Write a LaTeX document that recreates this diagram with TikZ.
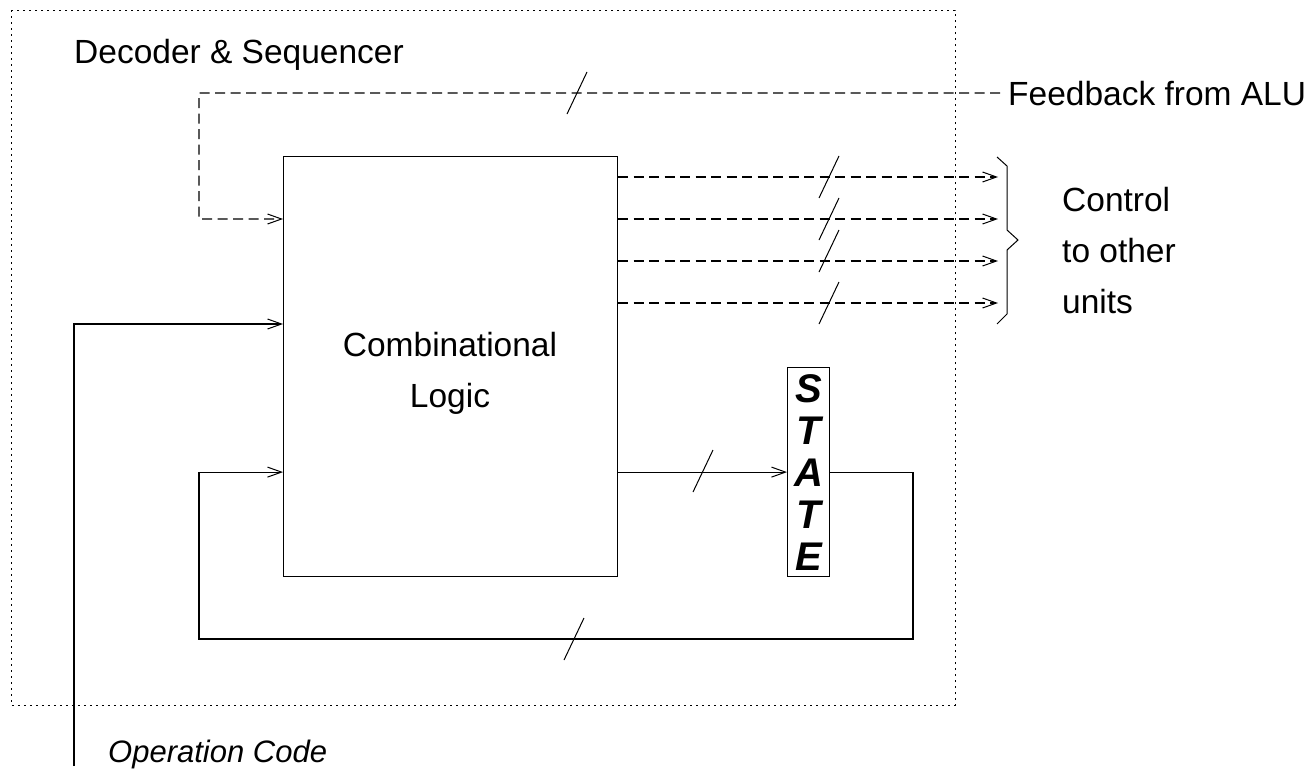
\documentclass[tikz,border=0pt]{standalone}
\usepackage{fontspec}
\setmainfont{Liberation Sans}
\usetikzlibrary{arrows.meta}
\begin{document}
\begin{tikzpicture}[x=1pt,y=-1pt,
  wire/.style={line width=1.2pt},
  dwire/.style={line width=1.3pt, dash pattern=on 10pt off 5.5pt},
  arr/.style={-{Straight Barb[length=14pt,width=10pt,line width=1pt]}},
  lbl/.style={font=\fontsize{33.5}{51}\selectfont, inner sep=0pt},
  bus/.pic={\draw[line width=1pt,solid] (-10,21) -- (10,-21);},
]
\useasboundingbox (0,0) rectangle (1312,774);
% outer dotted frame
\draw[line width=1pt, dash pattern=on 2pt off 4pt] (11,10) rectangle (955,705);
\node[lbl, anchor=base west] (ds) at (74,63) {Decoder \& Sequencer};

% blocks
\node[draw, wire, minimum width=334pt, minimum height=420pt, inner sep=0pt, anchor=north west] (cl) at (283,156) {};
\node[lbl, align=center, anchor=base] (clt) at (450,407) {Combinational\\Logic};
\node[draw, wire, minimum width=42pt, minimum height=209pt, inner sep=0pt, anchor=north west,
      font=\fontsize{40}{42}\selectfont\bfseries\itshape, align=center] (st) at (787,367) {S\\T\\A\\T\\E};

% texts
\node[lbl, anchor=base west] (fb) at (1008,105) {Feedback from ALU};
\node[lbl, align=left, anchor=base west] (ctl) at (1062,313) {Control\\to other\\units};
\node[lbl, font=\fontsize{31}{40}\selectfont\itshape, anchor=base west] (op) at (108,762) {Operation Code};

% feedback from ALU
\coordinate (fbc) at (199,93);
\coordinate (fbd) at (199,219);
\draw[dwire, arr, shorten <=8pt] (fb.west) -- (fbc) -- (fbd) -- (fbd -| cl.west);
\pic at (577,93) {bus};

% control outputs
\foreach \yy/\name in {177/c1,219/c2,261/c3,303/c4}{
  \coordinate (\name) at (998,\yy);
  \draw[dwire, arr] (\name -| cl.east) -- (\name);
}
\pic at (829,177) {bus};
\pic at (829,219) {bus};
\pic at (829,251) {bus};
\pic at (829,303) {bus};

% brace
\draw[line width=1pt] (997,157) -- (1007,166) -- (1007,230) -- (1018,240) -- (1007,250) -- (1007,314) -- (997,324);

% operation code input
\coordinate (opb) at (74,766);
\coordinate (opc) at (74,324);
\draw[wire, arr] (opb) -- (opc) -- (opc -| cl.west);

% state loop
\draw[wire, arr] (cl.east |- st.west) -- (st.west);
\pic at (703,471) {bus};
\coordinate (l1) at (913,639);
\coordinate (l2) at (199,639);
\draw[wire, arr] (st.east) -| (l1) -- (l2) |- (cl.west |- st.west);
\pic at (574,639) {bus};
\end{tikzpicture}
\end{document}
